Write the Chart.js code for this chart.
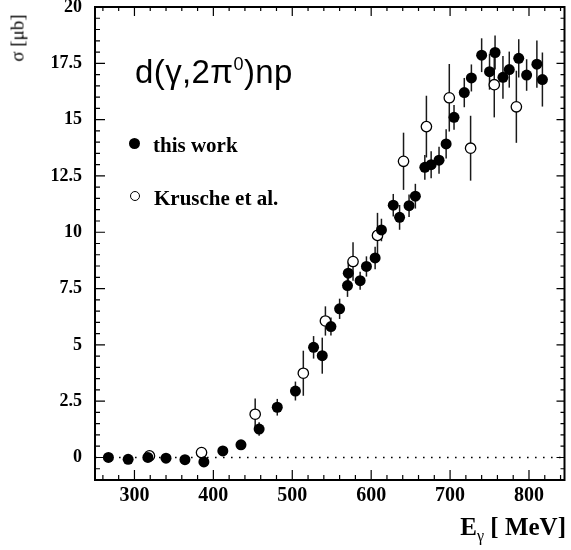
<!DOCTYPE html>
<html><head><meta charset="utf-8">
<script src="https://cdn.jsdelivr.net/npm/chart.js@4/dist/chart.umd.min.js"></script>
<style>
html,body{margin:0;padding:0;background:#fff;}
#wrap{position:relative;width:571px;height:550px;overflow:hidden;}
canvas{position:absolute;left:0;top:0;}
.t{position:absolute;white-space:nowrap;color:#000;}
#ytitle{left:17px;top:37.5px;font:19px "Liberation Serif",serif;transform:translate(-50%,-50%) rotate(-90deg);line-height:19px;}
#xtitle{right:5px;top:514px;font:bold 25px "Liberation Serif",serif;line-height:25px;}
#xtitle .sub{position:relative;top:6px;font-weight:normal;font-size:16px;}
#react{left:135px;top:55px;font:33px "Liberation Sans",sans-serif;line-height:33px;letter-spacing:0.4px;}
#react .sup{position:relative;top:-13px;font-size:18px;}
.leg{font:bold 21px "Liberation Serif",serif;line-height:21px;}
.mk{position:absolute;border-radius:50%;box-sizing:border-box;}
</style></head><body>
<div id="wrap">
<canvas id="c" width="571" height="550"></canvas>
<div class="t" id="ytitle">σ [μb]</div>
<div class="t" id="xtitle">E<span class="sub">γ</span> [ MeV]</div>
<div class="t" id="react">d(γ,2π<span class="sup">0</span>)np</div>
<div class="mk" style="left:129px;top:138px;width:11px;height:11px;background:#000;"></div>
<div class="t leg" style="left:153px;top:135px;">this work</div>
<div class="mk" style="left:129.5px;top:191px;width:10px;height:10px;border:1.3px solid #000;background:#fff;"></div>
<div class="t leg" style="left:154px;top:188px;">Krusche et al.</div>
</div>
<script>
// "this work" data
const energyThisWork = [267, 292, 317, 340, 364, 388, 412, 435, 458, 481, 504, 527, 538, 549, 560, 570, 571, 586, 594, 605, 613, 628, 636, 648, 656, 668, 676, 686, 695, 705, 718, 727, 740, 750, 757, 767, 775, 787, 797, 810, 817];
const sigmaThisWork = [0.0, -0.08, 0.0, -0.03, -0.1, -0.2, 0.29, 0.56, 1.26, 2.23, 2.95, 4.89, 4.52, 5.81, 6.6, 7.63, 8.18, 7.85, 8.48, 8.86, 10.1, 11.2, 10.66, 11.18, 11.6, 12.88, 13.0, 13.2, 13.92, 15.1, 16.2, 16.85, 17.86, 17.13, 17.98, 16.88, 17.22, 17.72, 16.98, 17.46, 16.78];
const errThisWork = [0.1, 0.1, 0.1, 0.1, 0.1, 0.15, 0.15, 0.15, 0.3, 0.37, 0.42, 0.5, 0.8, 0.4, 0.45, 0.5, 0.5, 0.4, 0.45, 0.5, 0.5, 0.5, 0.55, 0.5, 0.55, 0.55, 0.6, 0.6, 0.65, 0.55, 0.65, 0.6, 0.75, 0.8, 0.75, 0.95, 0.8, 0.85, 0.7, 1.05, 1.2];
// Krusche et al. data
const energyKrusche = [319, 385, 453, 514, 542, 577, 608, 641, 670, 699, 726, 756, 784];
const sigmaKrusche = [0.07, 0.22, 1.92, 3.74, 6.06, 8.7, 9.86, 13.15, 14.69, 15.97, 13.73, 16.55, 15.57];
const errKrusche = [0.05, 0.1, 0.7, 1.0, 0.65, 0.85, 1.0, 1.27, 1.37, 1.5, 1.44, 1.45, 1.6];
// axes
const xTicks = [300, 400, 500, 600, 700, 800];
const xTickLabels = ['300', '400', '500', '600', '700', '800'];
const yTicks = [0, 2.5, 5, 7.5, 10, 12.5, 15, 17.5, 20];
const yTickLabels = ['0', '2.5', '5', '7.5', '10', '12.5', '15', '17.5', '20'];

const toPts = (xs, ys) => xs.map((x, i) => ({x: x, y: ys[i]}));

const framePlugin = {
  id: 'frame',
  beforeDatasetsDraw(chart) {
    const ctx = chart.ctx, xs = chart.scales.x, ys = chart.scales.y;
    const a = chart.chartArea;
    ctx.save();
    ctx.strokeStyle = '#000';
    ctx.lineWidth = 1.5;
    ctx.setLineDash([1.6, 6.4]);
    const y0 = ys.getPixelForValue(0);
    ctx.beginPath(); ctx.moveTo(a.left, y0); ctx.lineTo(a.right, y0); ctx.stroke();
    ctx.setLineDash([]);
    ctx.strokeStyle = '#1a1a1a';
    ctx.lineWidth = 1.5;
    const bars = (xv, yv, ev) => {
      xv.forEach((x, i) => {
        const px = xs.getPixelForValue(x);
        ctx.beginPath();
        ctx.moveTo(px, ys.getPixelForValue(yv[i] - ev[i]));
        ctx.lineTo(px, ys.getPixelForValue(yv[i] + ev[i]));
        ctx.stroke();
      });
    };
    bars(energyKrusche, sigmaKrusche, errKrusche);
    bars(energyThisWork, sigmaThisWork, errThisWork);
    ctx.restore();
  },
  afterDraw(chart) {
    const ctx = chart.ctx, xs = chart.scales.x, ys = chart.scales.y;
    const a = chart.chartArea;
    ctx.save();
    ctx.strokeStyle = '#000';
    ctx.lineWidth = 1.2;
    ctx.beginPath();
    for (let v = 260; v <= 840; v += 20) {
      const px = xs.getPixelForValue(v);
      const major = v % 100 === 0;
      ctx.moveTo(px, a.bottom); ctx.lineTo(px, a.bottom - (major ? 10 : 5));
      ctx.moveTo(px, a.top); ctx.lineTo(px, a.top + (major ? 9 : 4));
    }
    for (let k = -2; k <= 40; k++) {
      const v = k * 0.5;
      const py = ys.getPixelForValue(v);
      const major = k % 5 === 0;
      ctx.moveTo(a.left, py); ctx.lineTo(a.left + (major ? 10 : 5), py);
      ctx.moveTo(a.right, py); ctx.lineTo(a.right - (major ? 8 : 4), py);
    }
    ctx.stroke();
    ctx.lineWidth = 2;
    ctx.strokeRect(a.left, a.top, a.right - a.left, a.bottom - a.top);
    ctx.restore();
  }
};

new Chart(document.getElementById('c'), {
  type: 'scatter',
  data: {
    datasets: [
      {label: 'this work', data: toPts(energyThisWork, sigmaThisWork), pointRadius: 5.5, pointBackgroundColor: '#000', pointBorderColor: '#000', pointBorderWidth: 0, showLine: false},
      {label: 'Krusche et al.', data: toPts(energyKrusche, sigmaKrusche), pointRadius: 5.2, pointBackgroundColor: '#fff', pointBorderColor: '#000', pointBorderWidth: 1.3, showLine: false}
    ]
  },
  options: {
    responsive: false,
    devicePixelRatio: 1,
    animation: false,
    layout: {padding: {top: 7, right: 2, left: 0, bottom: 0}},
    plugins: {legend: {display: false}, tooltip: {enabled: false}},
    scales: {
      x: {
        type: 'linear', min: 250, max: 845,
        grid: {display: false, drawTicks: false},
        border: {display: false},
        afterBuildTicks: s => { s.ticks = xTicks.map(v => ({value: v})); },
        afterFit: s => { s.height = 70; s.paddingLeft = 0; s.paddingRight = 0; },
        ticks: {
          autoSkip: false, maxRotation: 0, padding: 4, color: '#000',
          font: {family: '"Liberation Serif", serif', size: 20, weight: 'bold'},
          callback: (v, i) => xTickLabels[i]
        }
      },
      y: {
        type: 'linear', min: -1, max: 20,
        grid: {display: false, drawTicks: false},
        border: {display: false},
        afterBuildTicks: s => { s.ticks = yTicks.map(v => ({value: v})); },
        afterFit: s => { s.width = 95; s.paddingTop = 0; s.paddingBottom = 0; },
        ticks: {
          autoSkip: false, padding: 13, color: '#000',
          font: {family: '"Liberation Serif", serif', size: 18, weight: 'bold'},
          callback: (v, i) => yTickLabels[i]
        }
      }
    }
  },
  plugins: [framePlugin]
});
</script>
</body></html>
